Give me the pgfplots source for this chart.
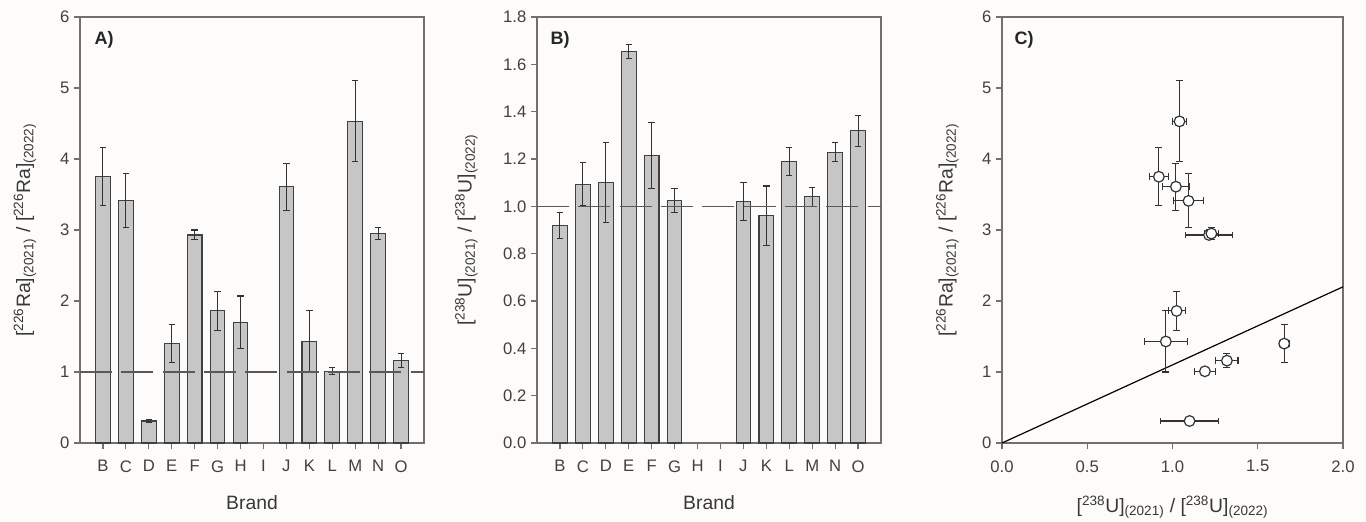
\documentclass[border=0pt]{standalone}
\usepackage{fontspec}
\setmainfont{Liberation Sans}
\usepackage{pgfplots}
\pgfplotsset{compat=1.18}

\definecolor{barfill}{HTML}{C6C6C6}
\definecolor{frame}{HTML}{707070}
\definecolor{ticktext}{HTML}{404040}
\definecolor{labtext}{HTML}{383838}
\definecolor{bg}{HTML}{FDFCFA}

\tikzset{tag/.style={font=\fontsize{13.5}{16}\selectfont\bfseries, text=black!85, anchor=west}}

\pgfplotsset{
  panel/.style={
    scale only axis, anchor=south west,
    height=319.5pt,
    axis line style={frame, line width=0.9pt},
    tick align=outside, xtick pos=bottom, ytick pos=left,
    major tick length=4.5pt,
    every tick/.style={frame, line width=0.9pt},
    tick label style={font=\fontsize{12.5}{15}\selectfont, text=ticktext},
    label style={font=\fontsize{14.5}{17}\selectfont, text=labtext},
    /pgf/number format/assume math mode=true,
    clip=false,
  },
  brand/.style={
    panel, width=258pt, xmin=-1, xmax=14, ymin=0,
    ybar, bar width=11pt,
    xtick={0,...,13},
    xticklabels={B,C,D,E,F,G,H,I,J,K,L,M,N,O},
    xticklabel style={yshift=-5pt},
    xlabel={Brand},
    xlabel style={at={(axis description cs:0.5,-0.141)}, anchor=center},
  },
  bars/.style={
    fill=barfill, draw=black!75, line width=0.8pt,
    error bars/.cd, y dir=both, y explicit,
    error bar style={black!80, line width=0.8pt},
    error mark options={rotate=90, black!80, mark size=2.4pt, line width=0.8pt},
  },
  refline/.style={sharp plot, black!65, line width=0.8pt, dash pattern=on 24pt off 7pt},
}

% ratio of 226Ra, 2021 over 2022 (brands with no value left out)
\pgfplotstableread{
i  r     e
0  3.75  0.41
1  3.41  0.38
2  0.31  0.02
3  1.40  0.27
4  2.93  0.07
5  1.86  0.28
6  1.70  0.37
8  3.61  0.33
9  1.43  0.43
10 1.01  0.05
11 4.53  0.57
12 2.95  0.09
13 1.16  0.10
}\radata

% ratio of 238U, 2021 over 2022
\pgfplotstableread{
i  r      e
0  0.920  0.055
1  1.094  0.090
2  1.100  0.170
3  1.655  0.030
4  1.214  0.140
5  1.024  0.050
8  1.020  0.080
9  0.961  0.125
10 1.190  0.060
11 1.041  0.040
12 1.228  0.040
13 1.319  0.065
}\udata

% U ratio against Ra ratio
\pgfplotstableread{
u      ra    eu     era
0.920  3.75  0.055  0.41
1.094  3.41  0.090  0.38
1.100  0.31  0.170  0.02
1.655  1.40  0.030  0.27
1.214  2.93  0.140  0.07
1.024  1.86  0.050  0.28
1.020  3.61  0.080  0.33
0.961  1.43  0.125  0.43
1.190  1.01  0.060  0.05
1.041  4.53  0.040  0.57
1.228  2.95  0.040  0.09
1.319  1.16  0.065  0.10
}\cdata

\begin{document}
\begin{tikzpicture}
\fill[bg] (0,0) rectangle (1024.5pt,390.75pt);
\useasboundingbox (0,0) rectangle (1024.5pt,390.75pt);

% A
\begin{axis}[brand, at={(60pt,58.5pt)}, ymax=6, ytick={0,...,6},
  ylabel={[\textsuperscript{226}Ra]\textsubscript{(2021)} / [\textsuperscript{226}Ra]\textsubscript{(2022)}},
  ylabel style={at={(axis description cs:-0.16,0.5)}, anchor=center}]
\addplot[bars] table[x=i, y=r, y error=e] {\radata};
\addplot[refline] coordinates {(-1,1) (14,1)};
\node[tag] at (rel axis cs:0.029,0.946) {A)};
\end{axis}

% B
\begin{axis}[brand, at={(402.75pt,58.5pt)}, ymax=1.8,
  ytick={0,0.2,...,1.8},
  yticklabel style={/pgf/number format/.cd, fixed, fixed zerofill, precision=1},
  ylabel={[\textsuperscript{238}U]\textsubscript{(2021)} / [\textsuperscript{238}U]\textsubscript{(2022)}},
  ylabel style={at={(axis description cs:-0.205,0.5)}, anchor=center}]
\addplot[bars] table[x=i, y=r, y error=e] {\udata};
\addplot[refline] coordinates {(-1,1) (14,1)};
\node[tag] at (rel axis cs:0.026,0.946) {B)};
\end{axis}

% C
\begin{axis}[panel, at={(751.5pt,58.5pt)}, width=255.75pt,
  xmin=0, xmax=2, ymin=0, ymax=6,
  xtick={0,0.5,...,2}, ytick={0,...,6},
  xticklabel style={yshift=-5pt, /pgf/number format/.cd, fixed, fixed zerofill, precision=1},
  xlabel={[\textsuperscript{238}U]\textsubscript{(2021)} / [\textsuperscript{238}U]\textsubscript{(2022)}},
  xlabel style={at={(axis description cs:0.5,-0.15)}, anchor=center},
  ylabel={[\textsuperscript{226}Ra]\textsubscript{(2021)} / [\textsuperscript{226}Ra]\textsubscript{(2022)}},
  ylabel style={at={(axis description cs:-0.16,0.5)}, anchor=center}]
\addplot[black, line width=0.9pt] coordinates {(0,0) (2,2.2)};
\addplot[only marks, mark=*, mark size=4pt,
  mark options={fill=white, draw=black!80, line width=0.9pt},
  error bars/.cd, x dir=both, x explicit, y dir=both, y explicit,
  error bar style={black!80, line width=0.8pt},
  error mark options={rotate=90, black!80, mark size=2.6pt, line width=0.8pt}]
  table[x=u, y=ra, x error=eu, y error=era] {\cdata};
\node[tag] at (rel axis cs:0.023,0.946) {C)};
\end{axis}
\end{tikzpicture}
\end{document}
